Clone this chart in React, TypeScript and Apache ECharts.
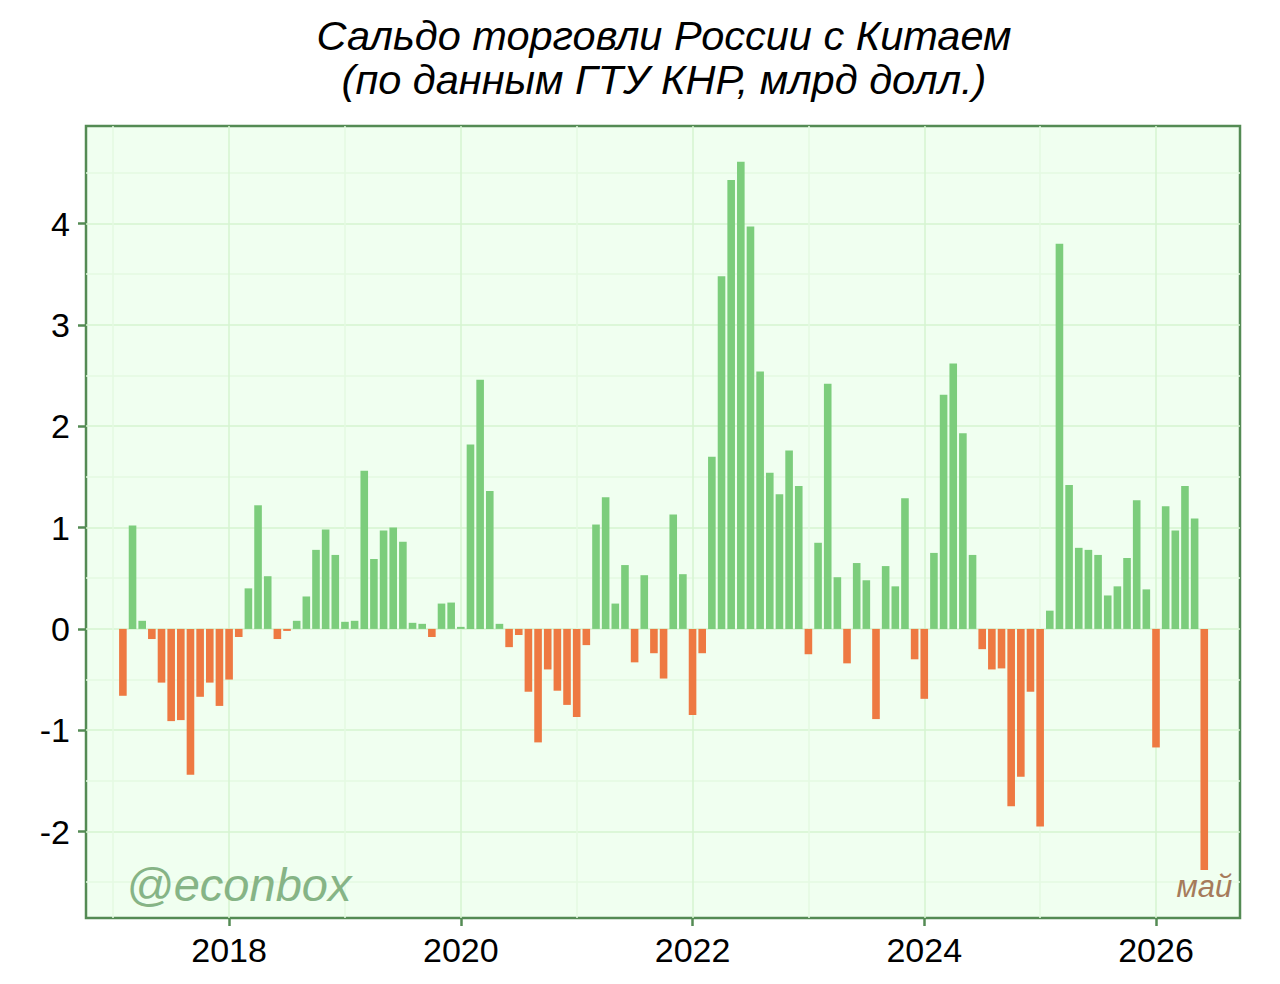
import React, { useEffect, useRef } from "react";
import * as echarts from "echarts";

const titleLine1 = "Сальдо торговли России с Китаем";
const titleLine2 = "(по данным ГТУ КНР, млрд долл.)";
const watermark = "@econbox";
const lastMonthLabel = "май";

const years = [2017, 2018, 2019, 2020, 2021, 2022, 2023, 2024, 2025, 2026];
const saldo2017 = [-0.66, 1.02, 0.08, -0.1, -0.53, -0.91, -0.9, -1.44, -0.67, -0.53, -0.76, -0.5];
const saldo2018 = [-0.08, 0.4, 1.22, 0.52, -0.1, -0.02, 0.08, 0.32, 0.78, 0.98, 0.73, 0.07];
const saldo2019 = [0.08, 1.56, 0.69, 0.97, 1.0, 0.86, 0.06, 0.05, -0.08, 0.25, 0.26, 0.02];
const saldo2020 = [1.82, 2.46, 1.36, 0.05, -0.18, -0.06, -0.62, -1.12, -0.4, -0.61, -0.75, -0.87];
const saldo2021 = [-0.16, 1.03, 1.3, 0.25, 0.63, -0.33, 0.53, -0.24, -0.49, 1.13, 0.54, -0.85];
const saldo2022 = [-0.24, 1.7, 3.48, 4.43, 4.61, 3.97, 2.54, 1.54, 1.33, 1.76, 1.41, -0.25];
const saldo2023 = [0.85, 2.42, 0.51, -0.34, 0.65, 0.48, -0.89, 0.62, 0.42, 1.29, -0.3, -0.69];
const saldo2024 = [0.75, 2.31, 2.62, 1.93, 0.73, -0.2, -0.4, -0.39, -1.75, -1.46, -0.62, -1.95];
const saldo2025 = [0.18, 3.8, 1.42, 0.8, 0.78, 0.73, 0.33, 0.42, 0.7, 1.27, 0.39, -1.17];
const saldo2026 = [1.21, 0.97, 1.41, 1.09, -2.38];
const saldoByYear = [saldo2017, saldo2018, saldo2019, saldo2020, saldo2021, saldo2022, saldo2023, saldo2024, saldo2025, saldo2026];

const xTickYears = [2018, 2020, 2022, 2024, 2026];
const yTicks = [-2, -1, 0, 1, 2, 3, 4];

const GREEN = "#7CCD7C";
const ORANGE = "#EE7942";
const BORDER = "#548B54";
const FONT = "'Liberation Sans', Arial, Helvetica, sans-serif";

export default function App() {
  const ref = useRef<HTMLDivElement>(null);

  useEffect(() => {
    if (!ref.current) return;
    const chart = echarts.init(ref.current, undefined, { renderer: "svg" });

    // month-end positions in decimal years
    const points: any[] = [];
    saldoByYear.forEach((vals, yi) => {
      vals.forEach((v, mi) => {
        points.push([years[yi] + (mi + 1) / 12, v]);
      });
    });
    const data = points.map((p, i) =>
      i === points.length - 1
        ? {
            value: p,
            label: {
              show: true,
              position: "bottom",
              distance: 1,
              formatter: lastMonthLabel,
              color: "#A67B5B",
              fontSize: 31,
              fontStyle: "italic",
              fontFamily: FONT,
            },
          }
        : { value: p }
    );

    const titleStyle = {
      fontSize: 41.5,
      fontStyle: "italic",
      fontWeight: "normal",
      fontFamily: FONT,
      color: "#000",
      lineHeight: 44,
    };

    chart.setOption({
      animation: false,
      title: {
        text: titleLine1,
        subtext: titleLine2,
        left: 664,
        top: 13,
        itemGap: 0,
        textAlign: "center",
        padding: 0,
        textStyle: titleStyle,
        subtextStyle: titleStyle,
      },
      graphic: [
        {
          type: "text",
          x: 126,
          y: 884,
          z: 10,
          silent: true,
          style: {
            text: watermark,
            font: "italic 47px " + FONT,
            fill: "#86B486",
            verticalAlign: "middle",
          },
        },
      ],
      grid: {
        left: 86,
        right: 40,
        top: 126,
        bottom: 66,
        show: true,
        backgroundColor: "#F0FFF0",
        borderColor: BORDER,
        borderWidth: 2.5,
      },
      xAxis: {
        type: "value",
        min: 2016.765,
        max: 2026.725,
        splitNumber: 5,
        axisLine: { show: false, onZero: false },
        axisTick: {
          show: true,
          length: 8,
          customValues: xTickYears,
          lineStyle: { color: BORDER, width: 2.5 },
        },
        axisLabel: {
          customValues: xTickYears,
          fontSize: 34,
          color: "#000",
          fontFamily: FONT,
          margin: 15,
          formatter: (v: number) => String(Math.round(v)),
        },
        splitLine: { show: true, lineStyle: { color: "#D6F5D0", width: 1.5 } },
        minorTick: { show: false, splitNumber: 2 },
        minorSplitLine: { show: true, lineStyle: { color: "#E5FAE2", width: 1.5 } },
      },
      yAxis: {
        type: "value",
        min: -2.853,
        max: 4.963,
        splitNumber: 8,
        axisLine: { show: false, onZero: false },
        axisTick: {
          show: true,
          length: 8,
          customValues: yTicks,
          lineStyle: { color: BORDER, width: 2.5 },
        },
        axisLabel: {
          customValues: yTicks,
          fontSize: 34,
          color: "#000",
          fontFamily: FONT,
          margin: 16,
        },
        splitLine: { show: true, lineStyle: { color: "#D6F5D0", width: 1.5 } },
        minorTick: { show: false, splitNumber: 2 },
        minorSplitLine: { show: true, lineStyle: { color: "#E5FAE2", width: 1.5 } },
      },
      series: [
        {
          type: "bar",
          data,
          barWidth: 7.6,
          itemStyle: {
            color: (p: any) => (p.value[1] >= 0 ? GREEN : ORANGE),
          },
        },
      ],
    });

    return () => chart.dispose();
  }, []);

  return (
    <div
      ref={ref}
      style={{ position: "fixed", left: 0, top: 0, width: 1280, height: 984, background: "#fff" }}
    />
  );
}
